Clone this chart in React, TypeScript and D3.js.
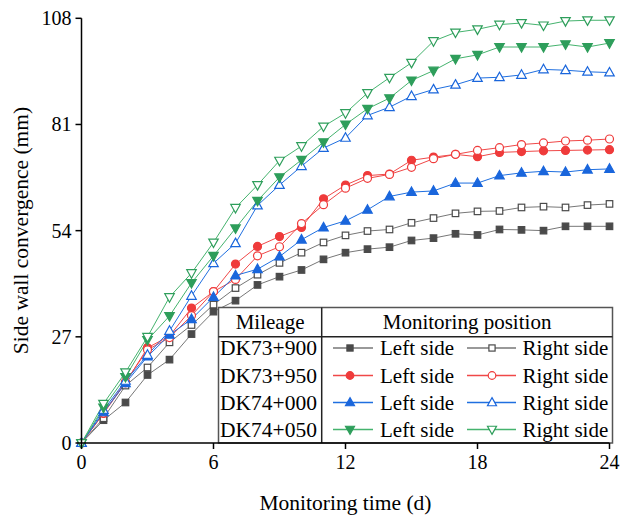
import React from "react";
import * as d3 from "d3";

const days = d3.range(0, 25);

const dk73_900_left = [0, 5.8, 10.3, 17.3, 21.2, 27.7, 33.4, 36.2, 40.2, 42.3, 44.0, 46.7, 48.4, 49.3, 49.8, 51.5, 52.1, 53.2, 52.9, 54.3, 54.2, 54.0, 55.1, 55.1, 55.1];
const dk73_900_right = [0, 6.3, 14.6, 19.2, 25.6, 30.0, 35.2, 39.4, 42.8, 45.8, 48.4, 51.0, 52.8, 53.9, 54.3, 56.0, 57.2, 58.4, 58.9, 59.0, 59.9, 60.1, 59.9, 60.5, 60.8];
const dk73_950_left = [0, 7.5, 15.3, 24.2, 27.2, 34.3, 38.5, 45.5, 50.0, 52.5, 54.8, 62.1, 65.6, 68.0, 68.4, 71.9, 72.7, 73.4, 72.8, 73.9, 74.1, 74.3, 74.4, 74.5, 74.6];
const dk73_950_right = [0, 7.6, 15.6, 23.7, 26.8, 32.4, 38.5, 41.6, 47.6, 49.9, 55.8, 60.6, 64.8, 67.3, 68.3, 70.1, 72.3, 73.4, 74.4, 75.1, 75.9, 76.3, 76.8, 77.0, 77.3];
const dk74_000_left = [0, 7.8, 15.2, 22.0, 27.5, 31.5, 37.1, 42.6, 44.2, 47.4, 51.7, 54.8, 56.5, 59.3, 62.7, 63.8, 64.1, 66.1, 66.1, 68.0, 68.7, 69.1, 68.9, 69.5, 69.7];
const dk74_000_right = [0, 8.4, 15.8, 22.4, 28.5, 37.4, 45.7, 50.8, 60.4, 65.6, 70.4, 75.0, 77.6, 83.3, 85.4, 88.2, 89.9, 91.1, 92.8, 93.0, 93.6, 95.0, 94.8, 94.4, 94.2];
const dk74_050_left = [0, 9.0, 16.8, 26.2, 32.3, 40.7, 47.6, 54.6, 61.6, 67.6, 72.0, 76.5, 81.0, 85.0, 87.7, 92.2, 94.7, 97.7, 98.7, 100.7, 100.7, 100.7, 101.4, 100.7, 101.7];
const dk74_050_right = [0, 10.0, 18.0, 27.0, 37.1, 43.2, 51.0, 59.8, 65.6, 71.8, 75.5, 80.5, 83.9, 89.0, 92.9, 96.7, 102.2, 104.4, 105.2, 106.4, 106.8, 106.2, 107.3, 107.5, 107.5];

const mileages = ["DK73+900", "DK73+950", "DK74+000", "DK74+050"];
const xTicks = [0, 6, 12, 18, 24];
const yTicks = [0, 27, 54, 81, 108];

type Shape = "square" | "circle" | "up" | "down";
interface Series { name: string; values: number[]; row: number; side: "L" | "R"; shape: Shape; filled: boolean; }

const seriesList: Series[] = [
  { name: "DK73+900 L", values: dk73_900_left, row: 0, side: "L", shape: "square", filled: true },
  { name: "DK73+900 R", values: dk73_900_right, row: 0, side: "R", shape: "square", filled: false },
  { name: "DK73+950 L", values: dk73_950_left, row: 1, side: "L", shape: "circle", filled: true },
  { name: "DK73+950 R", values: dk73_950_right, row: 1, side: "R", shape: "circle", filled: false },
  { name: "DK74+000 L", values: dk74_000_left, row: 2, side: "L", shape: "up", filled: true },
  { name: "DK74+000 R", values: dk74_000_right, row: 2, side: "R", shape: "up", filled: false },
  { name: "DK74+050 L", values: dk74_050_left, row: 3, side: "L", shape: "down", filled: true },
  { name: "DK74+050 R", values: dk74_050_right, row: 3, side: "R", shape: "down", filled: false },
];

const lineColors = ["#777777", "#f04848", "#1f6fe0", "#45b36e"];
const markColors = ["#4a4a4a", "#ef3b3b", "#1a66dc", "#2e9e5b"];

const ts = { fontFamily: "Liberation Serif" };

function Marker({ x, y, shape, filled, color, size = 1 }: { x: number; y: number; shape: Shape; filled: boolean; color: string; size?: number }) {
  const fill = filled ? color : "#ffffff";
  const sw = 1.2;
  if (shape === "square") {
    const s = 6.5 * size;
    return <rect x={x - s / 2} y={y - s / 2} width={s} height={s} fill={fill} stroke={color} strokeWidth={sw} />;
  }
  if (shape === "circle") {
    return <circle cx={x} cy={y} r={4 * size} fill={fill} stroke={color} strokeWidth={sw} />;
  }
  const w = 9.5 * size;
  const h = 8.5 * size;
  if (shape === "up") {
    const p = `M${x},${y - h * 0.6}L${x + w / 2},${y + h * 0.4}L${x - w / 2},${y + h * 0.4}Z`;
    return <path d={p} fill={fill} stroke={color} strokeWidth={sw} />;
  }
  const p = `M${x},${y + h * 0.6}L${x + w / 2},${y - h * 0.4}L${x - w / 2},${y - h * 0.4}Z`;
  return <path d={p} fill={fill} stroke={color} strokeWidth={sw} />;
}

export default function App() {
  const W = 622, H = 516;
  const x = d3.scaleLinear().domain([0, 24]).range([81.5, 609.5]);
  const y = d3.scaleLinear().domain([0, 108]).range([443, 18.3]);
  const line = d3.line<number>().x((_, i) => x(days[i])).y((v) => y(v));

  const lg = { left: 218.5, right: 612.5, top: 307.5, bottom: 443, headerY: 336.7, sepX: 321.7 };
  const rowBase = [355, 382.5, 409.5, 436.5];

  return (
    <div style={{ position: "absolute", left: 0, top: 0 }}>
      <svg width={W} height={H} style={{ display: "block", background: "#fff" }}>
        {seriesList.map((s) => (
          <path key={s.name + "l"} d={line(s.values) || ""} fill="none" stroke={lineColors[s.row]} strokeWidth={1} />
        ))}
        {seriesList.map((s) => (
          <g key={s.name + "m"}>
            {s.values.map((v, i) => (
              <Marker key={i} x={x(days[i])} y={y(v)} shape={s.shape} filled={s.filled} color={markColors[s.row]} />
            ))}
          </g>
        ))}

        <rect x={lg.left} y={lg.top} width={lg.right - lg.left} height={lg.bottom - lg.top} fill="#fff" stroke="#555" strokeWidth={1.5} />
        <line x1={lg.left} x2={lg.right} y1={lg.headerY} y2={lg.headerY} stroke="#222" strokeWidth={1.5} />
        <line x1={lg.sepX} x2={lg.sepX} y1={lg.top} y2={lg.bottom} stroke="#222" strokeWidth={1.5} />
        <text style={ts} x={(lg.left + lg.sepX) / 2} y={329} textAnchor="middle" fontSize={21} fill="#000">Mileage</text>
        <text style={ts} x={(lg.sepX + lg.right) / 2} y={329} textAnchor="middle" fontSize={21} fill="#000">Monitoring position</text>
        {mileages.map((m, r) => (
          <g key={m}>
            <text style={ts} x={lg.left + 1.5} y={rowBase[r]} fontSize={21.5} fill="#000">{m}</text>
            <line x1={333} x2={373} y1={rowBase[r] - 7} y2={rowBase[r] - 7} stroke={lineColors[r]} strokeWidth={1.3} />
            <Marker x={350} y={rowBase[r] - 7} shape={seriesList[r * 2].shape} filled={true} color={markColors[r]} size={0.95} />
            <text style={ts} x={380} y={rowBase[r]} fontSize={21} fill="#000">Left side</text>
            <line x1={467} x2={516} y1={rowBase[r] - 7} y2={rowBase[r] - 7} stroke={lineColors[r]} strokeWidth={1.3} />
            <Marker x={492} y={rowBase[r] - 7} shape={seriesList[r * 2 + 1].shape} filled={false} color={markColors[r]} size={0.95} />
            <text style={ts} x={522.5} y={rowBase[r]} fontSize={21} fill="#000">Right side</text>
          </g>
        ))}

        <line x1={x(0)} x2={x(0)} y1={y(108)} y2={y(0)} stroke="#000" strokeWidth={1.5} />
        <line x1={x(0)} x2={x(24)} y1={y(0)} y2={y(0)} stroke="#000" strokeWidth={1.5} />
        {yTicks.map((t) => (
          <g key={"y" + t}>
            <line x1={x(0) - 6} x2={x(0)} y1={y(t)} y2={y(t)} stroke="#000" strokeWidth={1.5} />
            <text style={ts} x={x(0) - 10} y={y(t) + 7} textAnchor="end" fontSize={20} fill="#000">{t}</text>
          </g>
        ))}
        {xTicks.map((t) => (
          <g key={"x" + t}>
            <line x1={x(t)} x2={x(t)} y1={y(0)} y2={y(0) + 6} stroke="#000" strokeWidth={1.5} />
            <text style={ts} x={x(t)} y={469} textAnchor="middle" fontSize={20} fill="#000">{t}</text>
          </g>
        ))}
        <text style={ts} x={345.5} y={510} textAnchor="middle" fontSize={21.5} fill="#000">Monitoring time (d)</text>
        <text style={ts} transform={`translate(28,230.5) rotate(-90)`} textAnchor="middle" fontSize={21.5} fill="#000">Side wall convergence (mm)</text>
      </svg>
    </div>
  );
}
